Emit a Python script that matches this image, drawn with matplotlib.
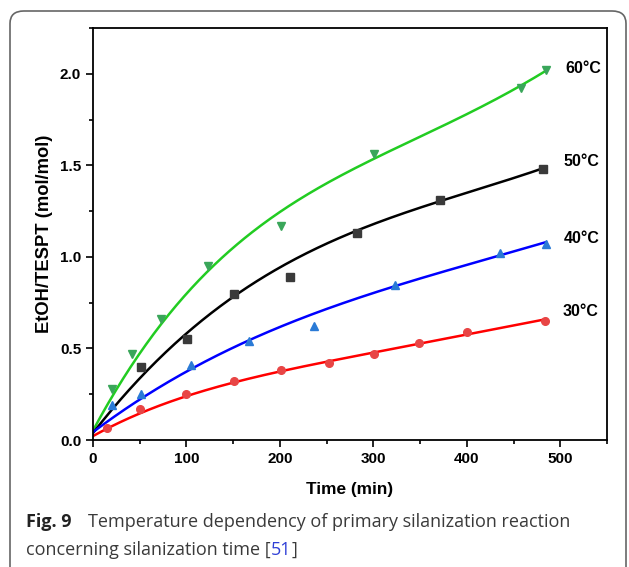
import numpy as np
import matplotlib
matplotlib.use("Agg")
import matplotlib.pyplot as plt
from matplotlib.patches import FancyBboxPatch

# ---- data ----
labels = ["60°C", "50°C", "40°C", "30°C"]

x60 = [20, 42, 73, 123, 201, 301, 458, 485]
y60 = [0.28, 0.47, 0.66, 0.95, 1.17, 1.56, 1.92, 2.02]
x50 = [51, 101, 151, 211, 282, 371, 481]
y50 = [0.40, 0.55, 0.80, 0.89, 1.13, 1.31, 1.48]
x40 = [20, 51, 105, 167, 237, 323, 435, 485]
y40 = [0.19, 0.25, 0.41, 0.54, 0.62, 0.845, 1.02, 1.07]
x30 = [15, 50, 100, 151, 201, 252, 301, 349, 400, 484]
y30 = [0.065, 0.17, 0.25, 0.32, 0.38, 0.42, 0.47, 0.53, 0.59, 0.65]

# fitted curves, values
cx = [0, 50, 100, 150, 200, 300, 400, 485]
c60 = [0.05, 0.47, 0.82, 1.03, 1.24, 1.55, 1.77, 2.02]
c50 = [0.04, 0.33, 0.59, 0.78, 0.94, 1.18, 1.35, 1.49]
c40 = [0.05, 0.20, 0.39, 0.51, 0.61, 0.80, 0.96, 1.08]
c30 = [0.02, 0.15, 0.235, 0.31, 0.38, 0.475, 0.577, 0.66]

label_x = [505, 503, 504, 503]
label_y = [2.03, 1.52, 1.10, 0.70]

xticks = [0, 100, 200, 300, 400, 500]
yticks = [0.0, 0.5, 1.0, 1.5, 2.0]

# ---- styles ----
series = [
    (x60, y60, c60, "v", "#3aa65a", "#22cc22"),
    (x50, y50, c50, "s", "#3a3a3a", "#000000"),
    (x40, y40, c40, "^", "#2a7ad6", "#0000ff"),
    (x30, y30, c30, "o", "#e84545", "#ff0000"),
]

plt.rcParams['font.family'] = ['Liberation Sans', 'DejaVu Sans']

fig = plt.figure(figsize=(6.29, 5.67), dpi=100)
ax = fig.add_axes([93/629, 1-440/567, (607-93)/629, (440-28)/567])

xs = np.linspace(0, 485, 300)
for (px, py, cy, mk, mc, lc) in series:
    coef = np.polyfit(cx, cy, 4)
    ax.plot(xs, np.polyval(coef, xs), color=lc, lw=1.8, zorder=2)
    ax.plot(px, py, linestyle="none", marker=mk, color=mc, markersize=5.5, zorder=3)

for lab, lx, ly in zip(labels, label_x, label_y):
    ax.text(lx, ly, lab, fontsize=11.5, fontweight="bold", ha="left", va="center")

ax.set_xlim(0, 550)
ax.set_ylim(0, 2.25)
ax.set_xticks(xticks)
ax.set_xticklabels([str(v) for v in xticks])
ax.set_yticks(yticks)
ax.set_yticklabels([f"{v:.1f}" for v in yticks])
ax.set_xticks(np.arange(50, 551, 100), minor=True)
ax.set_yticks([0.25, 0.75, 1.25, 1.75, 2.25], minor=True)
ax.tick_params(which="both", direction="out", width=1.2, labelsize=11)
ax.tick_params(which="major", length=5)
ax.tick_params(which="minor", length=3)
for lbl in ax.get_xticklabels() + ax.get_yticklabels():
    lbl.set_fontweight("bold")
for sp in ax.spines.values():
    sp.set_linewidth(1.3)
ax.set_xlabel("Time (min)", fontsize=12.4, fontweight="bold", labelpad=12)
ax.set_ylabel("EtOH/TESPT (mol/mol)", fontsize=13.2, fontweight="bold", labelpad=5)

# border box
box = FancyBboxPatch((10/629, -0.05), (626-10)/629, (567-11)/567 + 0.05,
                     boxstyle="round,pad=0,rounding_size=0.022",
                     transform=fig.transFigure, fill=False,
                     edgecolor="#666666", linewidth=1.2, clip_on=False)
fig.patches.append(box)

# caption
cf = ['Open Sans', 'DejaVu Sans']
fs = 13
tc = "#3a3a3a"
y1 = 1-522/567
y2 = 1-550/567
fig.text(26/629, y1, "Fig. 9", family=cf, fontsize=fs, fontweight="bold", va="center", color="#222222")
fig.text(88/629, y1, "Temperature dependency of primary silanization reaction",
         family=cf, fontsize=fs, color=tc, va="center")
pre = "concerning silanization time ["
fig.text(26/629, y2, pre, family=cf, fontsize=fs, color=tc, va="center")
probe1 = fig.text(26/629, y2, pre, family=cf, fontsize=fs, alpha=0, va="center")
probe2 = fig.text(26/629, y2, pre + "51", family=cf, fontsize=fs, alpha=0, va="center")
fig.canvas.draw()
xa = probe1.get_window_extent().x1 / fig.bbox.width
xb = probe2.get_window_extent().x1 / fig.bbox.width
fig.text(xa, y2, "51", family=cf, fontsize=fs, color="#2f3fd6", va="center")
fig.text(xb, y2, "]", family=cf, fontsize=fs, color=tc, va="center")

fig.savefig("out.png", dpi=100)
